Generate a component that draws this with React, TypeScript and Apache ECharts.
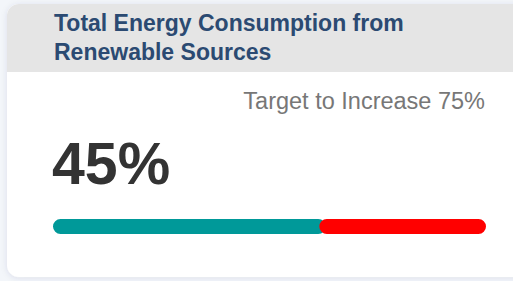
import React, { useEffect, useRef } from "react";
import * as echarts from "echarts";

const titleLines = ["Total Energy Consumption from", "Renewable Sources"];
const targetLabel = ["Target to Increase 75%"];
const valueLabel = ["45%"];
const categories = ["Renewable share"];
const scaleMax = [100];
const tealShare = [63];
const redBase = [61.5];
const redShare = [38.5];

export default function App() {
  const ref = useRef<HTMLDivElement>(null);
  useEffect(() => {
    if (!ref.current) return;
    document.body.style.margin = "0";
    const chart = echarts.init(ref.current, null, { renderer: "svg" });
    const font = "'Liberation Sans', Arial, sans-serif";
    chart.setOption({
      animation: false,
      backgroundColor: "#f3f6fa",
      grid: { left: 53, width: 433, top: 219, height: 15 },
      xAxis: { type: "value", min: 0, max: scaleMax[0], show: false },
      yAxis: { type: "category", data: categories, show: false },
      graphic: [
        {
          type: "rect",
          z: -10,
          shape: { x: 7, y: 4, width: 530, height: 273, r: 12 },
          style: { fill: "#ffffff", shadowBlur: 6, shadowColor: "rgba(40,60,100,0.10)", shadowOffsetY: 1 },
        },
        {
          type: "rect",
          z: -9,
          shape: { x: 7, y: 4, width: 530, height: 68, r: [12, 12, 0, 0] },
          style: { fill: "#e5e5e5" },
        },
        {
          type: "text",
          left: 54,
          top: 8,
          style: {
            text: titleLines.join("\n"),
            font: `bold 23px ${font}`,
            lineHeight: 29,
            fill: "#2b4a72",
          },
        },
        {
          type: "text",
          right: 28,
          top: 89,
          style: { text: targetLabel[0], font: `23.5px ${font}`, fill: "#777777" },
        },
        {
          type: "text",
          left: 52,
          top: 134,
          style: { text: valueLabel[0], font: `bold 59px ${font}`, fill: "#333333" },
        },
      ],
      series: [
        {
          type: "bar",
          data: tealShare,
          barWidth: 15,
          barGap: "-100%",
          itemStyle: { color: "#009999", borderRadius: 7.5 },
          silent: true,
        },
        {
          type: "bar",
          stack: "rest",
          data: redBase,
          barWidth: 15,
          itemStyle: { color: "rgba(0,0,0,0)" },
          silent: true,
        },
        {
          type: "bar",
          stack: "rest",
          data: redShare,
          barWidth: 15,
          itemStyle: { color: "#ff0000", borderRadius: 7.5 },
          silent: true,
        },
      ],
    });
    return () => chart.dispose();
  }, []);
  return <div ref={ref} style={{ position: "absolute", left: 0, top: 0, width: 513, height: 281 }} />;
}
